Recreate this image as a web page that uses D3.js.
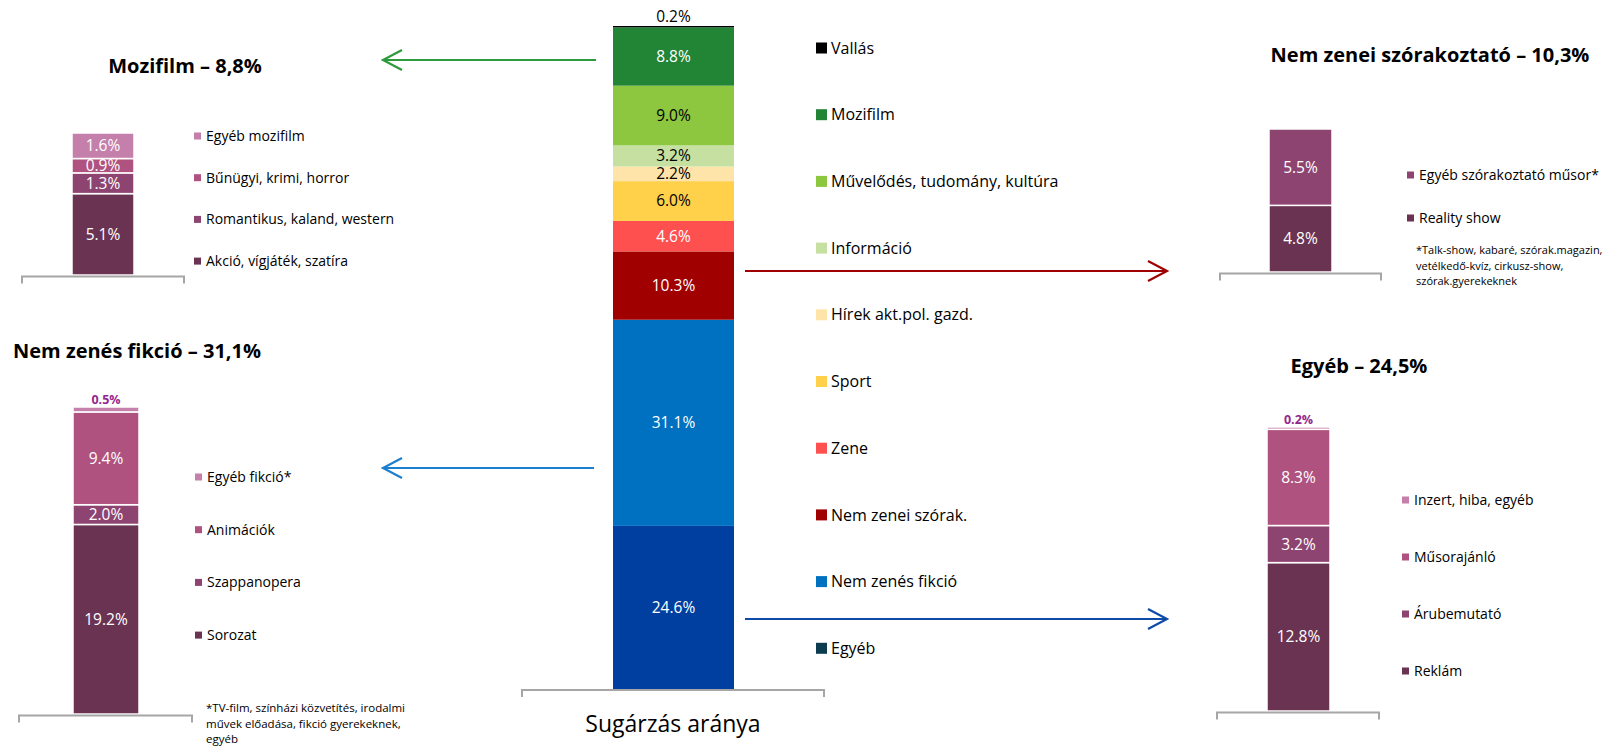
<!DOCTYPE html>
<meta charset="utf-8" />
<script src="https://d3js.org/d3.v7.min.js"></script>
<style>
	body { margin: 0; background: #fff; }
	text { font-family: "Open Sans", sans-serif; }
</style>
<div id="chart"></div>
<script>
	// main bar: stack order bottom -> top
	var mainCats = ["Egyéb", "Nem zenés fikció", "Nem zenei szórak.", "Zene", "Sport",
		"Hírek akt.pol. gazd.", "Információ", "Művelődés, tudomány, kultúra", "Mozifilm", "Vallás"];
	var mainValues = [24.6, 31.1, 10.3, 4.6, 6.0, 2.2, 3.2, 9.0, 8.8, 0.2];
	var mainLabels = ["24.6%", "31.1%", "10.3%", "4.6%", "6.0%", "2.2%", "3.2%", "9.0%", "8.8%", "0.2%"];
	var mainColors = ["#003f9f", "#0070c0", "#a00000", "#ff5050", "#ffd04a",
		"#ffe4aa", "#c5e0a0", "#8dc63f", "#218535", "#000000"];
	var mainLegendColors = ["#0c3c50", "#0070c0", "#a00000", "#ff5050", "#ffd04a",
		"#ffe4aa", "#c5e0a0", "#8dc63f", "#218535", "#000000"];
	var mainLabelInk = ["#fff", "#fff", "#fff", "#fff", "#000", "#000", "#000", "#000", "#fff", "#000"];
	var mainAxisTitle = "Sugárzás aránya";

	// breakdown panels (bottom -> top)
	var movieCats = ["Akció, vígjáték, szatíra", "Romantikus, kaland, western", "Bűnügyi, krimi, horror", "Egyéb mozifilm"];
	var movieValues = [5.1, 1.3, 0.9, 1.6];
	var movieLabels = ["5.1%", "1.3%", "0.9%", "1.6%"];

	var fictionCats = ["Sorozat", "Szappanopera", "Animációk", "Egyéb fikció*"];
	var fictionValues = [19.2, 2.0, 9.4, 0.5];
	var fictionLabels = ["19.2%", "2.0%", "9.4%", "0.5%"];

	var entCats = ["Reality show", "Egyéb szórakoztató műsor*"];
	var entValues = [4.8, 5.5];
	var entLabels = ["4.8%", "5.5%"];

	var otherCats = ["Reklám", "Árubemutató", "Műsorajánló", "Inzert, hiba, egyéb"];
	var otherValues = [12.8, 3.2, 8.3, 0.2];
	var otherLabels = ["12.8%", "3.2%", "8.3%", "0.2%"];

	var subColors = ["#6b3352", "#8e4470", "#b0527f", "#c47faa"];
	var entColors = ["#6b3352", "#8e4470"];

	var svg = d3.select("#chart").append("svg")
		.attr("width", 1614)
		.attr("height", 746);

	var axisGray = "#a6a6a6";

	function stack(values) {
		var acc = 0;
		return values.map(function (v, i) {
			var d = { i: i, y0: acc, y1: acc + v };
			acc += v;
			return d;
		});
	}

	function baseAxis(g, x0, x1, y) {
		g.append("path")
			.attr("d", "M" + x0 + "," + (y + 7) + "V" + y + "H" + x1 + "V" + (y + 7))
			.attr("fill", "none")
			.attr("stroke", axisGray)
			.attr("stroke-width", 2);
	}

	// ---------- main stacked bar ----------
	var mainTotal = d3.sum(mainValues);
	var yMain = d3.scaleLinear().domain([0, mainTotal]).range([689, 26]);
	var mainStack = stack(mainValues);
	var gMain = svg.append("g");

	gMain.selectAll("rect")
		.data(mainStack)
		.join("rect")
		.attr("x", 613)
		.attr("width", 121)
		.attr("y", d => yMain(d.y1))
		.attr("height", d => yMain(d.y0) - yMain(d.y1))
		.attr("fill", d => mainColors[d.i]);

	gMain.selectAll("text.val")
		.data(mainStack)
		.join("text")
		.attr("class", "val")
		.attr("x", 673.5)
		.attr("y", d => d.i === mainValues.length - 1 ? yMain(d.y1) - 4 : (yMain(d.y0) + yMain(d.y1)) / 2)
		.attr("dy", d => d.i === mainValues.length - 1 ? 0 : "0.35em")
		.attr("text-anchor", "middle")
		.attr("font-size", 15.5)
		.attr("fill", d => mainLabelInk[d.i])
		.text(d => mainLabels[d.i]);

	baseAxis(gMain, 522, 824, 690);
	gMain.append("text")
		.attr("x", 673)
		.attr("y", 732)
		.attr("text-anchor", "middle")
		.attr("font-size", 23)
		.attr("fill", "#000")
		.text(mainAxisTitle);

	// main legend, top item first
	var legendOrder = d3.range(mainCats.length).reverse();
	var gLeg = svg.append("g");
	legendOrder.forEach(function (idx, k) {
		var cy = 48 + k * 66.7;
		gLeg.append("rect")
			.attr("x", 816).attr("y", cy - 5.5)
			.attr("width", 11).attr("height", 11)
			.attr("fill", mainLegendColors[idx]);
		gLeg.append("text")
			.attr("x", 831).attr("y", cy)
			.attr("dy", "0.35em")
			.attr("font-size", 16)
			.attr("fill", "#000")
			.text(mainCats[idx]);
	});

	// ---------- breakdown panels ----------
	function drawPanel(p) {
		var g = svg.append("g");
		var total = d3.sum(p.values);
		var y = d3.scaleLinear().domain([0, total]).range([p.bottom, p.top]);
		var st = stack(p.values);

		g.selectAll("rect")
			.data(st)
			.join("rect")
			.attr("x", p.x0)
			.attr("width", p.x1 - p.x0)
			.attr("y", d => y(d.y1))
			.attr("height", d => y(d.y0) - y(d.y1))
			.attr("fill", d => p.colors[d.i])
			.attr("stroke", "#fff")
			.attr("stroke-width", 1.5);

		g.selectAll("text.val")
			.data(st)
			.join("text")
			.attr("class", "val")
			.attr("x", (p.x0 + p.x1) / 2)
			.attr("text-anchor", "middle")
			.each(function (d) {
				var t = d3.select(this);
				var small = p.smallTop && d.i === p.values.length - 1;
				if (small) {
					t.attr("y", y(d.y1) - 3)
						.attr("font-size", 12.5)
						.attr("font-weight", "bold")
						.attr("fill", "#93278f");
				} else {
					t.attr("y", (y(d.y0) + y(d.y1)) / 2)
						.attr("dy", "0.35em")
						.attr("font-size", 15.5)
						.attr("fill", "#fff");
				}
			})
			.text(d => p.labels[d.i]);

		baseAxis(g, p.ax0, p.ax1, p.bottom + 1.5);

		g.append("text")
			.attr("x", p.titleX)
			.attr("y", p.titleY)
			.attr("text-anchor", "middle")
			.attr("font-size", 20)
			.attr("font-weight", "bold")
			.attr("fill", "#000")
			.text(p.title);

		// legend, top item first
		var order = d3.range(p.cats.length).reverse();
		order.forEach(function (idx, k) {
			var cy = p.legTop + k * p.legStep;
			g.append("rect")
				.attr("x", p.legX).attr("y", cy - 3.5)
				.attr("width", 7).attr("height", 7)
				.attr("fill", p.colors[idx]);
			g.append("text")
				.attr("x", p.legX + 12).attr("y", cy)
				.attr("dy", "0.35em")
				.attr("font-size", 14)
				.attr("fill", "#000")
				.text(p.cats[idx]);
		});

		if (p.note) {
			p.note.forEach(function (line, k) {
				g.append("text")
					.attr("x", p.noteX)
					.attr("y", p.noteY + k * 15.5)
					.attr("font-size", p.noteSize)
					.attr("fill", "#000")
					.text(line);
			});
		}
	}

	drawPanel({
		title: "Mozifilm – 8,8%", titleX: 185, titleY: 73,
		cats: movieCats, values: movieValues, labels: movieLabels, colors: subColors,
		x0: 72, x1: 134, bottom: 275, top: 133, ax0: 22, ax1: 184,
		legX: 194, legTop: 136, legStep: 41.7
	});

	drawPanel({
		title: "Nem zenés fikció – 31,1%", titleX: 137, titleY: 358,
		cats: fictionCats, values: fictionValues, labels: fictionLabels, colors: subColors,
		x0: 73, x1: 139, bottom: 714, top: 407, ax0: 19, ax1: 192, smallTop: true,
		legX: 195, legTop: 477, legStep: 52.7,
		note: ["*TV-film, színházi közvetítés, irodalmi", "művek előadása, fikció gyerekeknek,", "egyéb"],
		noteX: 206, noteY: 712, noteSize: 11.5
	});

	drawPanel({
		title: "Nem zenei szórakoztató – 10,3%", titleX: 1430, titleY: 62,
		cats: entCats, values: entValues, labels: entLabels, colors: entColors,
		x0: 1269, x1: 1332, bottom: 272, top: 129, ax0: 1220, ax1: 1381,
		legX: 1407, legTop: 175, legStep: 43,
		note: ["*Talk-show, kabaré, szórak.magazin,", "vetélkedő-kvíz, cirkusz-show,", "szórak.gyerekeknek"],
		noteX: 1416, noteY: 254, noteSize: 11
	});

	drawPanel({
		title: "Egyéb – 24,5%", titleX: 1359, titleY: 373,
		cats: otherCats, values: otherValues, labels: otherLabels, colors: subColors,
		x0: 1267, x1: 1330, bottom: 711, top: 427, ax0: 1217, ax1: 1379, smallTop: true,
		legX: 1402, legTop: 500, legStep: 57
	});

	// ---------- connector arrows ----------
	var arrows = [
		{ from: 596, to: 383, y: 60, color: "#2e9a3e" },
		{ from: 594, to: 383, y: 468, color: "#1a7fd0" },
		{ from: 745, to: 1167, y: 271, color: "#a00000" },
		{ from: 745, to: 1167, y: 619, color: "#0f4aa8" }
	];
	var gArr = svg.append("g").attr("fill", "none").attr("stroke-width", 2);
	arrows.forEach(function (a) {
		var dir = a.to > a.from ? 1 : -1;
		gArr.append("path")
			.attr("d", "M" + a.from + "," + a.y + "H" + a.to)
			.attr("stroke", a.color);
		gArr.append("path")
			.attr("d", "M" + (a.to - dir * 19) + "," + (a.y - 10) + "L" + a.to + "," + a.y + "L" + (a.to - dir * 19) + "," + (a.y + 10))
			.attr("stroke", a.color)
			.attr("stroke-width", 2.2);
	});
</script>
